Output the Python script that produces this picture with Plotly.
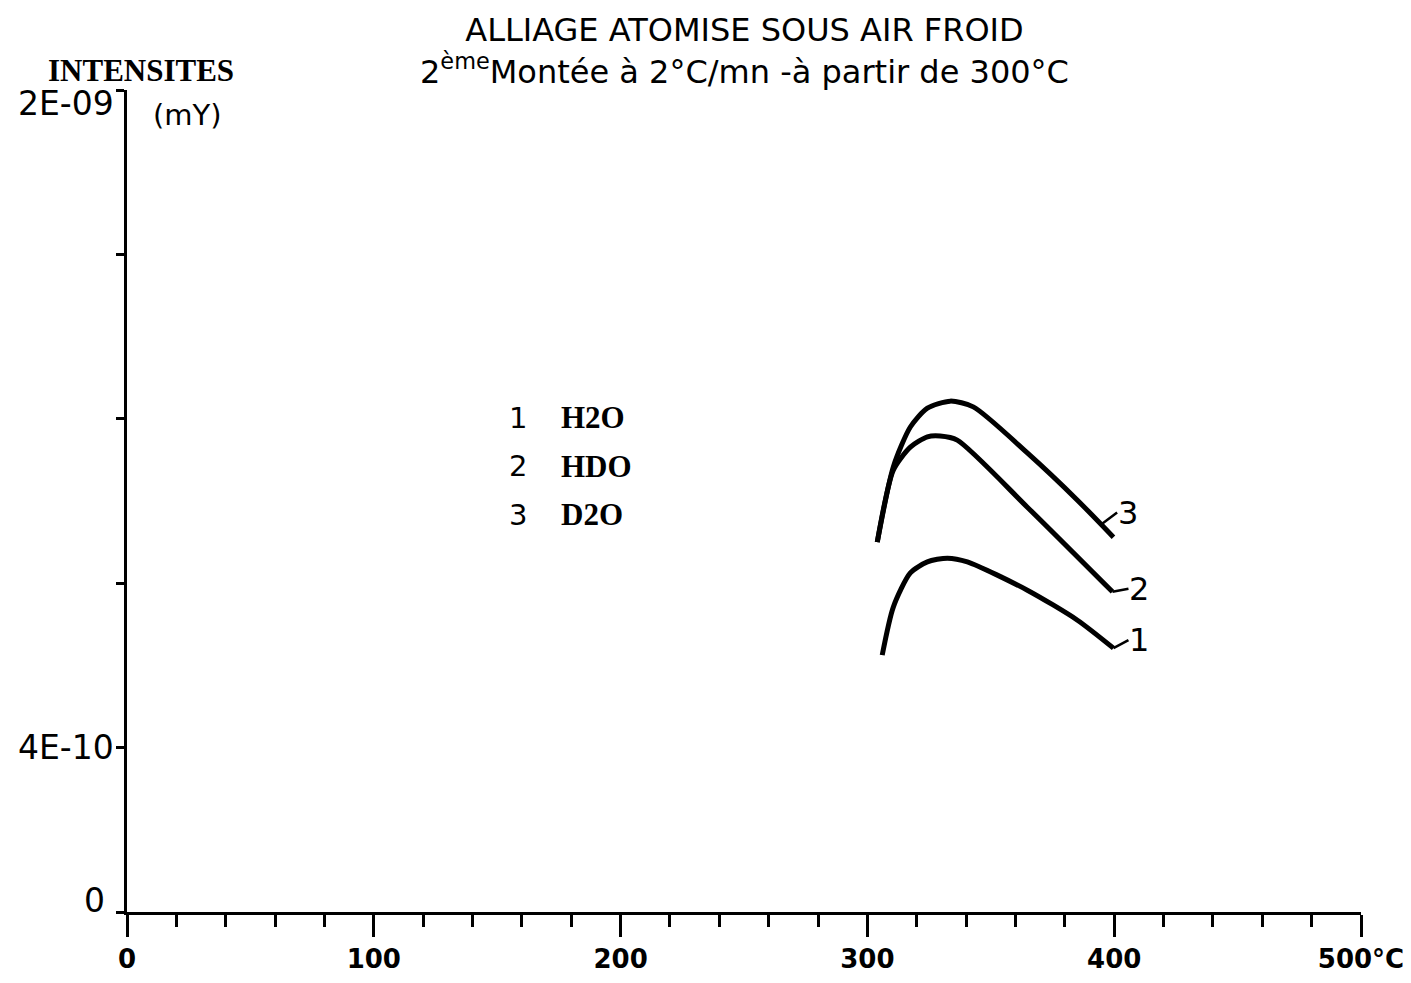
import plotly.graph_objects as go

# temperatures (°C) and intensities (mV)
t_h2o = [306.0, 310.5, 317.4, 324.3, 332.4, 340.5, 364.8, 385.1, 399.7]
i_h2o = [6.25e-10, 7.42e-10, 8.25e-10, 8.52e-10, 8.61e-10, 8.52e-10, 7.83e-10, 7.10e-10, 6.42e-10]

t_hdo = [304.0, 310.5, 317.4, 324.3, 329.5, 336.4, 364.8, 399.3]
i_hdo = [9.00e-10, 1.075e-09, 1.131e-09, 1.156e-09, 1.158e-09, 1.148e-09, 9.85e-10, 7.79e-10]

t_d2o = [304.0, 310.5, 317.4, 324.3, 333.6, 342.9, 364.8, 385.1, 399.7]
i_d2o = [9.00e-10, 1.083e-09, 1.180e-09, 1.226e-09, 1.243e-09, 1.229e-09, 1.117e-09, 1.002e-09, 9.12e-10]

curve_ids = ["1", "2", "3"]
curve_names = ["H2O", "HDO", "D2O"]

x_ticks = [0, 100, 200, 300, 400, 500]
x_labels = ["0", "100", "200", "300", "400", "500°C"]
y_ticks = [0, 4e-10, 8e-10, 1.2e-09, 1.6e-09, 2e-09]
y_labels = ["0", "4E-10", "", "", "", "2E-09"]

fig = go.Figure()
series = [(t_h2o, i_h2o), (t_hdo, i_hdo), (t_d2o, i_d2o)]
for t, i in series:
    fig.add_trace(go.Scatter(x=t, y=i, mode="lines",
                             line=dict(color="black", width=5, shape="spline", smoothing=0.7),
                             showlegend=False))

# curve numbers near the right end of each curve, with a short leader
# (leader starts a little before the end of the curve, on the last segment)
back = [0, 0, 5]
offs = [(15, -8), (16, -3), (16, -12)]
for cid, (t, i), b, (ax, ay) in zip(curve_ids, series, back, offs):
    hx = t[-1] - b
    hy = i[-1] + (i[-2] - i[-1]) * b / (t[-1] - t[-2])
    fig.add_annotation(x=hx, y=hy, text=cid, showarrow=True, arrowhead=0, arrowwidth=2.5,
                       arrowcolor="black", ax=ax, ay=ay, xanchor="left", borderpad=0,
                       font=dict(family="DejaVu Sans", size=32, color="black"))

# legend block
for k, (cid, name) in enumerate(zip(curve_ids, curve_names)):
    yk = 1.202e-09 - k * 1.18e-10
    fig.add_annotation(x=163, y=yk, text=cid, showarrow=False, xanchor="right",
                       font=dict(family="DejaVu Sans", size=29, color="black"))
    fig.add_annotation(x=175, y=yk, text="<b>" + name + "</b>", showarrow=False, xanchor="left",
                       font=dict(family="Liberation Serif", size=31, color="black"))

# y tick labels placed beside the axis
y_shifts = [(-9, 12), (0, 0), (0, 0), (0, 0), (0, 0), (0, -13)]
for v, lab, (dx, dy) in zip(y_ticks, y_labels, y_shifts):
    if lab:
        fig.add_annotation(x=-0.009, y=v, xref="paper", xshift=dx, yshift=dy, xanchor="right",
                           text=lab, showarrow=False,
                           font=dict(family="DejaVu Sans", size=33, color="black"))

fig.add_annotation(x=0.5, y=1.047, xref="paper", yref="paper", xanchor="center", yanchor="middle",
                   text="ALLIAGE ATOMISE SOUS AIR FROID<br>2<sup>ème</sup>Montée à 2°C/mn -à partir de 300°C",
                   showarrow=False, font=dict(family="DejaVu Sans", size=32, color="black"))
fig.add_annotation(x=0.011, y=1.024, xref="paper", yref="paper", xanchor="center", yanchor="middle",
                   text="<b>INTENSITES</b>", showarrow=False,
                   font=dict(family="Liberation Serif", size=31, color="black"))
fig.add_annotation(x=0.049, y=0.97, xref="paper", yref="paper", xanchor="center", yanchor="middle",
                   text="(mY)", showarrow=False,
                   font=dict(family="DejaVu Sans", size=29, color="black"))

fig.update_xaxes(range=[0, 500], tickvals=x_ticks, ticktext=x_labels, ticks="outside",
                 ticklen=22, tickwidth=3, tickcolor="black", showline=True, linewidth=3,
                 linecolor="black", showgrid=False, zeroline=False,
                 tickfont=dict(family="DejaVu Sans", size=26, color="black", weight="bold"),
                 minor=dict(dtick=20, ticks="outside", ticklen=12, tickwidth=3, tickcolor="black",
                            showgrid=False))
fig.update_yaxes(range=[0, 2e-09], tickvals=y_ticks, ticktext=[""] * len(y_ticks), ticks="outside",
                 ticklen=8, tickwidth=3, tickcolor="black", showline=True, linewidth=3,
                 linecolor="black", showgrid=False, zeroline=False)
fig.update_layout(width=1411, height=983, margin=dict(l=119, r=58, t=82, b=79),
                  plot_bgcolor="white", paper_bgcolor="white")

fig.write_html("out.html")
